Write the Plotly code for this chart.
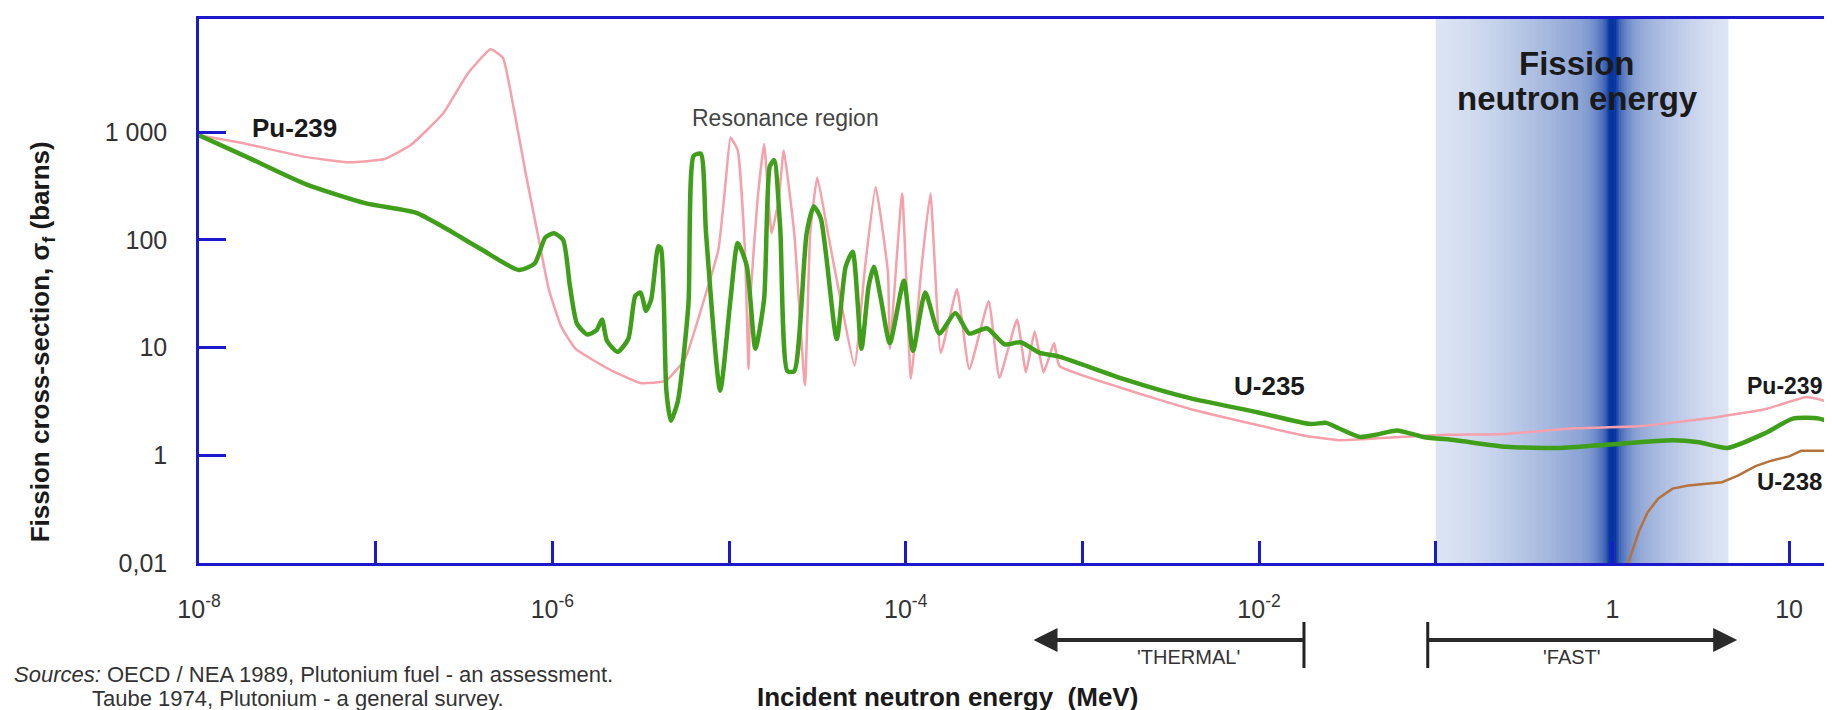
import numpy as np
import plotly.graph_objects as go

# ---------------- data ----------------
u235_energy_mev = [1.0e-8, 1.86e-8, 3.98e-8, 8.71e-8, 1.70e-7, 2.40e-7, 3.98e-7, 6.46e-7, 7.94e-7, 9.12e-7,
                   1.02e-6, 1.15e-6, 1.26e-6, 1.38e-6, 1.58e-6, 1.78e-6, 1.91e-6, 2.04e-6, 2.34e-6, 2.69e-6,
                   2.95e-6, 3.16e-6, 3.39e-6, 3.63e-6, 3.98e-6, 4.12e-6, 4.27e-6, 4.42e-6, 4.68e-6, 5.13e-6,
                   5.89e-6, 6.31e-6, 6.92e-6, 7.41e-6, 8.91e-6, 1.02e-5, 1.12e-5, 1.26e-5, 1.41e-5, 1.58e-5,
                   1.70e-5, 1.80e-5, 1.95e-5, 2.14e-5, 2.34e-5, 2.75e-5, 3.02e-5, 3.31e-5, 4.07e-5, 4.57e-5,
                   5.01e-5, 5.62e-5, 6.17e-5, 6.61e-5, 7.24e-5, 8.13e-5, 9.77e-5, 1.10e-4, 1.29e-4, 1.55e-4,
                   1.91e-4, 2.29e-4, 2.88e-4, 3.63e-4, 4.47e-4, 5.75e-4, 7.24e-4, 1.70e-3, 4.07e-3, 9.77e-3,
                   1.95e-2, 2.40e-2, 2.82e-2, 3.72e-2, 4.57e-2, 6.03e-2, 8.51e-2, 0.129, 0.251, 0.501,
                   0.955, 2.19, 3.09, 4.47, 7.41, 10.5, 14.8, 18.2]
u235_sigma_barn = [933, 589, 331, 219, 178, 132, 81.3, 52.5, 60.3, 105,
                   115, 100, 36.3, 16.6, 13.2, 14.5, 18.2, 11.5, 9.12, 12.0,
                   30.2, 32.4, 21.9, 28.2, 87.1, 83.2, 28.2, 3.98, 2.09, 3.16,
                   25.1, 603, 631, 115, 3.98, 28.2, 93.3, 57.5, 9.77, 28.2,
                   479, 550, 126, 6.03, 6.03, 115, 204, 158, 12.0, 56.2,
                   77.6, 9.77, 37.2, 56.2, 28.2, 11.0, 41.7, 9.33, 32.4, 13.5,
                   20.9, 13.5, 15.1, 10.7, 11.2, 8.91, 8.32, 5.13, 3.39, 2.51,
                   1.95, 2.00, 1.78, 1.48, 1.55, 1.70, 1.48, 1.38, 1.20, 1.17,
                   1.26, 1.38, 1.32, 1.17, 1.62, 2.19, 2.19, 1.95]

pu239_energy_mev = [1.0e-8, 1.86e-8, 3.98e-8, 7.08e-8, 1.12e-7, 1.58e-7, 2.40e-7, 3.31e-7, 4.47e-7, 5.25e-7,
                    6.03e-7, 7.08e-7, 8.32e-7, 9.55e-7, 1.12e-6, 1.35e-6, 2.09e-6, 3.16e-6, 4.37e-6, 5.62e-6,
                    7.24e-6, 8.71e-6, 9.55e-6, 1.02e-5, 1.12e-5, 1.23e-5, 1.29e-5, 1.32e-5, 1.45e-5, 1.58e-5,
                    1.74e-5, 1.91e-5, 2.04e-5, 2.34e-5, 2.69e-5, 2.88e-5, 3.16e-5, 3.63e-5, 4.27e-5, 5.13e-5,
                    5.89e-5, 6.76e-5, 7.94e-5, 8.13e-5, 9.55e-5, 1.07e-4, 1.23e-4, 1.38e-4, 1.58e-4, 1.95e-4,
                    2.29e-4, 2.95e-4, 3.39e-4, 4.27e-4, 4.79e-4, 5.37e-4, 6.03e-4, 6.92e-4, 7.41e-4, 1.70e-3,
                    4.07e-3, 9.77e-3, 1.86e-2, 2.82e-2, 3.89e-2, 6.31e-2, 0.115, 0.251, 0.603, 1.41,
                    3.39, 7.41, 12.6, 18.2]
pu239_sigma_barn = [933, 776, 589, 525, 562, 759, 1479, 3467, 5888, 4898,
                    1698, 407, 107, 34.7, 15.8, 9.77, 6.31, 4.68, 4.90, 7.76,
                    28.2, 81.3, 331, 891, 676, 81.3, 6.31, 28.2, 234, 776,
                    115, 234, 676, 115, 4.47, 115, 380, 115, 28.2, 6.76,
                    56.2, 309, 49.0, 9.77, 269, 5.13, 56.2, 269, 8.91, 34.7,
                    6.31, 26.9, 5.25, 18.2, 5.89, 14.1, 5.89, 11.0, 6.76, 4.17,
                    2.69, 1.91, 1.51, 1.38, 1.41, 1.48, 1.55, 1.58, 1.78, 1.86,
                    2.19, 2.69, 3.47, 3.02]

u238_energy_mev = [1.23, 1.26, 1.41, 1.58, 1.82, 2.19, 2.69, 4.17, 5.13, 6.46, 7.94, 10.0, 11.7, 18.2]
u238_sigma_barn = [0.100, 0.112, 0.195, 0.295, 0.398, 0.490, 0.525, 0.562, 0.646, 0.794, 0.891, 0.977, 1.10, 1.10]

y_tick_values = [0.1, 1, 10, 100, 1000]
y_tick_labels = ["0,01", "1", "10", "100", "1 000"]
x_label_values = [1e-8, 1e-6, 1e-4, 1e-2, 1, 10]
x_label_texts = ["10<sup>-8</sup>", "10<sup>-6</sup>", "10<sup>-4</sup>", "10<sup>-2</sup>", "1", "10"]
x_unlabelled_ticks = [1e-7, 1e-5, 1e-3, 1e-1]

# fission-neutron band (MeV)
band_low_mev, band_peak_mev, band_high_mev = 0.1, 1.0, 4.5

# ---------------- layout constants ----------------
W, H = 1832, 710
ML, MR, MT, MB = 191, 2, 11, 155
PW, PH = W - ML - MR, H - MT - MB
X_RANGE = [-8.0, 1.26]
Y_RANGE = [-1.0, 4.05]
AXIS_BLUE = "#1a1acc"
FONT = "Liberation Sans, Arial, sans-serif"


def px_x(p):
    return (p - ML) / PW


def px_y(p):
    return (H - MB - p) / PH


def e_to_paper(e):
    return (np.log10(e) - X_RANGE[0]) / (X_RANGE[1] - X_RANGE[0])


fig = go.Figure()

# gradient band
light = np.array([234, 240, 250])
dark = np.array([6, 54, 160])
lo, pk, hi = np.log10(band_low_mev), np.log10(band_peak_mev), np.log10(band_high_mev)
n = 180
edges = np.linspace(lo, hi, n + 1)
for i in range(n):
    mid = 0.5 * (edges[i] + edges[i + 1])
    if mid < pk:
        u = (mid - lo) / (pk - lo)
    else:
        u = (hi - mid) / (hi - pk)
    t = 0.06 + 0.46 * u ** 1.4 + 0.28 * np.exp(-((mid - pk) / 0.09) ** 2) \
        + 0.30 * np.exp(-((mid - pk) / 0.03) ** 2)
    t = min(t, 1.0)
    c = (light + (dark - light) * t).astype(int)
    fig.add_shape(type="rect", xref="paper", yref="paper",
                  x0=e_to_paper(10 ** edges[i]), x1=e_to_paper(10 ** edges[i + 1]) + 0.0004,
                  y0=0, y1=1, fillcolor=f"rgb({c[0]},{c[1]},{c[2]})",
                  line=dict(width=0), layer="below")

fig.add_trace(go.Scatter(x=pu239_energy_mev, y=pu239_sigma_barn, mode="lines",
                         line=dict(color="#f5a0aa", width=2.5, shape="spline", smoothing=0.4),
                         name="Pu-239", showlegend=False))
fig.add_trace(go.Scatter(x=u235_energy_mev, y=u235_sigma_barn, mode="lines",
                         line=dict(color="#3f9f1a", width=4.5, shape="spline", smoothing=0.6),
                         name="U-235", showlegend=False))
fig.add_trace(go.Scatter(x=u238_energy_mev, y=u238_sigma_barn, mode="lines",
                         line=dict(color="#b5733c", width=2.5), name="U-238", showlegend=False))

fig.update_xaxes(type="log", range=X_RANGE, showgrid=False, zeroline=False,
                 showline=True, linecolor=AXIS_BLUE, linewidth=2.5, mirror=True,
                 tickvals=x_label_values, ticktext=x_label_texts,
                 ticks="inside", ticklen=22, tickwidth=3, tickcolor=AXIS_BLUE,
                 tickfont=dict(family=FONT, size=25, color="#333333"),
                 ticklabelstandoff=22,
                 minor=dict(tickvals=x_unlabelled_ticks, ticks="inside", ticklen=22,
                            tickwidth=3, tickcolor=AXIS_BLUE, showgrid=False))
fig.update_yaxes(type="log", range=Y_RANGE, showgrid=False, zeroline=False,
                 showline=True, linecolor=AXIS_BLUE, linewidth=2.5, mirror=True,
                 tickvals=y_tick_values, ticktext=y_tick_labels,
                 ticks="inside", ticklen=27, tickwidth=3, tickcolor=AXIS_BLUE,
                 tickfont=dict(family=FONT, size=25, color="#333333"),
                 ticklabelstandoff=24)

ann = []


def label(text, x, y, size, bold=True, color="#1a1a1a", xanchor="center", angle=0):
    ann.append(dict(text=f"<b>{text}</b>" if bold else text, x=x, y=y, xref="paper", yref="paper",
                    showarrow=False, xanchor=xanchor, yanchor="middle", textangle=angle,
                    font=dict(family=FONT, size=size, color=color)))


label("Pu-239", px_x(287), px_y(120), 26)
label("Resonance region", px_x(779), px_y(110), 23, bold=False, color="#444444")
label("U-235", px_x(1263), px_y(378), 26)
label("Pu-239", px_x(1779), px_y(378), 23)
label("U-238", px_x(1784), px_y(473), 24)
label("Fission", px_x(1572), px_y(55), 33)
label("neutron energy", px_x(1572), px_y(90), 33)
label("Fission cross-section, σ<sub>f</sub> (barns)", px_x(33), px_y(334), 26, angle=-90)
label("Incident neutron energy  (MeV)", px_x(941), px_y(689), 26)
label("<i>Sources:</i> OECD / NEA 1989, Plutonium fuel - an assessment.", px_x(4), px_y(666), 22,
      bold=False, color="#333333", xanchor="left")
label("Taube 1974, Plutonium - a general survey.", px_x(82), px_y(690), 22,
      bold=False, color="#333333", xanchor="left")
label("'THERMAL'", px_x(1182), px_y(649), 20, bold=False, color="#333333")
label("'FAST'", px_x(1567), px_y(649), 20, bold=False, color="#333333")

# range arrows
for head, tail in [(1027, 1298), (1732, 1422)]:
    ann.append(dict(x=px_x(head), y=px_y(632), xref="paper", yref="paper",
                    ax=tail - head, ay=0, axref="pixel", ayref="pixel",
                    text="", showarrow=True, arrowhead=2, arrowsize=1.2,
                    arrowwidth=4, arrowcolor="#2a2a2a"))
for bar in [1298, 1422]:
    fig.add_shape(type="line", xref="paper", yref="paper",
                  x0=px_x(bar), x1=px_x(bar), y0=px_y(614), y1=px_y(660),
                  line=dict(color="#222222", width=3))

fig.update_layout(width=W, height=H, margin=dict(l=ML, r=MR, t=MT, b=MB),
                  paper_bgcolor="white", plot_bgcolor="white", annotations=ann,
                  showlegend=False)

fig.write_html("out.html")
